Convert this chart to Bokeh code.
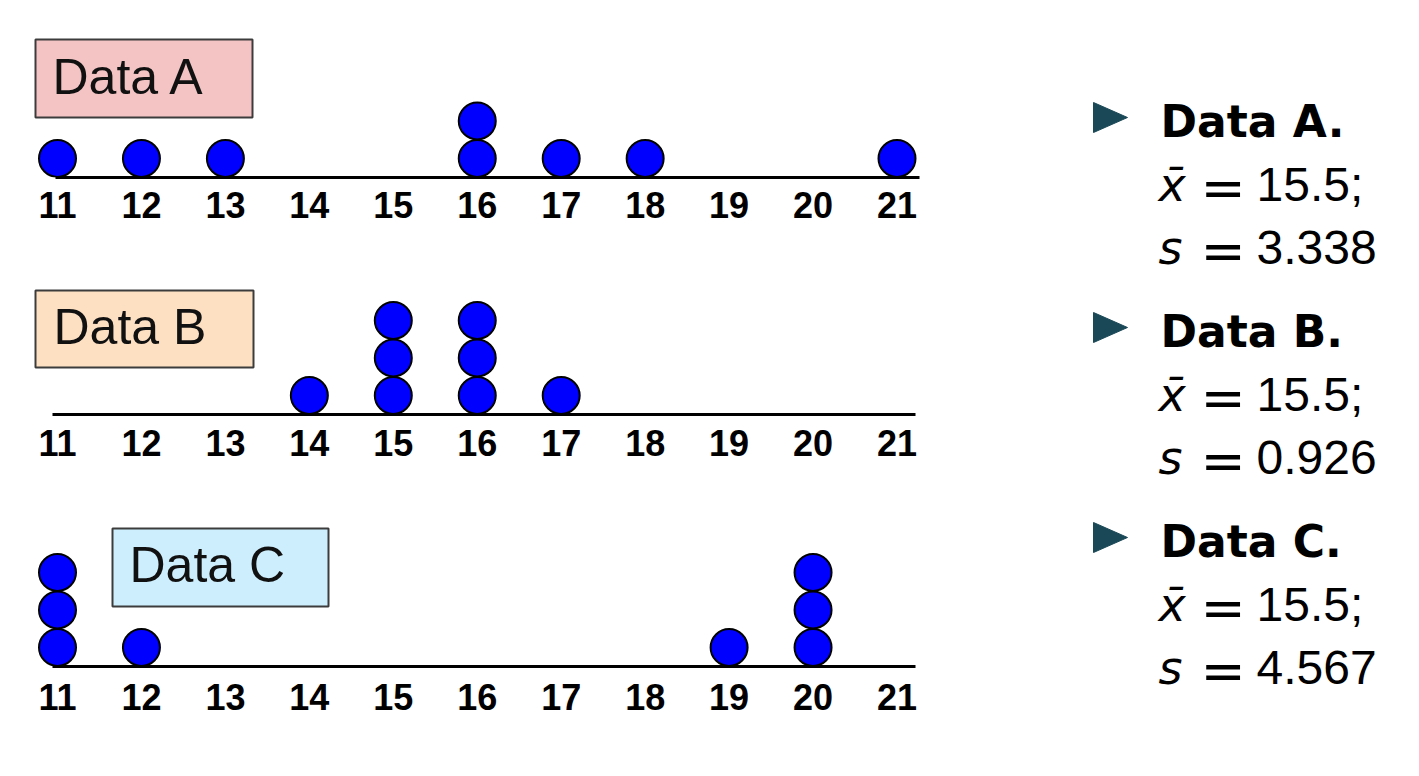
import numpy as np
from bokeh.plotting import figure
from bokeh.layouts import row, column
from bokeh.models import Range1d, FixedTicker, BoxAnnotation, Label
from bokeh.core.properties import value
from bokeh.embed import file_html
from bokeh.resources import INLINE

# ---------------- data ----------------
TICKS = [11, 12, 13, 14, 15, 16, 17, 18, 19, 20, 21]
DATA_A = [11, 12, 13, 16, 16, 17, 18, 21]
DATA_B = [14, 15, 15, 15, 16, 16, 16, 17]
DATA_C = [11, 11, 11, 12, 19, 20, 20, 20]
NAMES = ["Data A", "Data B", "Data C"]
BOX_COLORS = ["#f4c4c4", "#fde0c2", "#cdeefc"]

# ---------------- layout / style constants ----------------
LEFT_W = 1000
RIGHT_W = 419
TOTAL_H = 776
PX_PER_UNIT = 83.95
X11_PX = 57.0
X_START = 11 - X11_PX / PX_PER_UNIT
X_END = X_START + LEFT_W / PX_PER_UNIT
DOT_R = 19.0       # centre of first dot above line (px)
DOT_STEP = 37.5    # vertical step between stacked dots (px)
DOT_SIZE = 37
DOT_FILL = "#0000ff"
BASE_FIX = 0.37    # svg alphabetic baseline correction (fraction of font size)


def v(px):
    return 11 + (px - X11_PX) / PX_PER_UNIT


panels = [
    dict(data=DATA_A, top=0, height=250, line=177, bounds=(55, 919),
         box=(35, 252, 39, 117), text=(52, 95), standoff=14),
    dict(data=DATA_B, top=250, height=250, line=414, bounds=(52, 915),
         box=(35, 253, 290, 367), text=(53, 345), standoff=15),
    dict(data=DATA_C, top=500, height=276, line=666, bounds=(52, 915),
         box=(112, 328, 528, 606), text=(129, 583), standoff=17),
]

figs = []
for i, pn in enumerate(panels):
    frame_h = pn["line"] - pn["top"]
    p = figure(width=LEFT_W, height=pn["height"], output_backend="svg",
               toolbar_location=None, y_axis_location=None,
               x_range=Range1d(X_START, X_END), y_range=Range1d(0, frame_h),
               min_border_left=0, min_border_right=0, min_border_top=0,
               min_border_bottom=pn["height"] - frame_h)
    p.outline_line_color = None
    p.xgrid.visible = False
    p.ygrid.visible = False
    p.background_fill_color = "white"
    p.border_fill_color = "white"

    ax = p.xaxis[0]
    ax.ticker = FixedTicker(ticks=TICKS)
    ax.bounds = (v(pn["bounds"][0]), v(pn["bounds"][1]))
    ax.axis_line_width = 3
    ax.axis_line_color = "black"
    ax.major_tick_line_color = None
    ax.minor_tick_line_color = None
    ax.major_tick_out = 0
    ax.major_tick_in = 0
    ax.major_label_standoff = pn["standoff"]
    ax.major_label_text_font = "Liberation Sans"
    ax.major_label_text_font_size = "36px"
    ax.major_label_text_font_style = "bold"
    ax.major_label_text_color = "black"

    # stacked dots
    xs, ys, seen = [], [], {}
    for val in pn["data"]:
        k = seen.get(val, 0)
        seen[val] = k + 1
        xs.append(val)
        ys.append(DOT_R + k * DOT_STEP)
    p.scatter(xs, ys, size=DOT_SIZE, fill_color=DOT_FILL, line_color="black",
              line_width=2)

    bx0, bx1, by0, by1 = pn["box"]
    p.add_layout(BoxAnnotation(left=v(bx0), right=v(bx1),
                               bottom=pn["line"] - by1, top=pn["line"] - by0,
                               fill_color=BOX_COLORS[i], fill_alpha=1.0,
                               line_color="#3c3c3c", line_alpha=1.0,
                               line_width=2, level="underlay"))
    tx, tb = pn["text"]
    p.add_layout(Label(x=v(tx), y=pn["line"] - tb + BASE_FIX * 50,
                       text=NAMES[i],
                       text_font="Liberation Sans", text_font_size="50px",
                       text_baseline="alphabetic", text_align="left",
                       text_color="#111111"))
    figs.append(p)

# ---------------- right-hand text panel ----------------
q = figure(width=RIGHT_W, height=TOTAL_H, output_backend="svg",
           toolbar_location=None, x_axis_location=None, y_axis_location=None,
           x_range=Range1d(0, RIGHT_W), y_range=Range1d(TOTAL_H, 0),
           min_border_left=0, min_border_right=0, min_border_top=0,
           min_border_bottom=0)
q.outline_line_color = None
q.xgrid.visible = False
q.ygrid.visible = False

TRI_COLOR = "#1a4857"
ROW0 = 137
ROW_STEP = 210
tri_xs, tri_ys = [], []
titles, tx_, ty_ = [], [], []
vars_, vx, vy = [], [], []
eqx, eqy = [], []
nums, nx, ny = [], [], []
for i, (name, data) in enumerate(zip(NAMES, [DATA_A, DATA_B, DATA_C])):
    base = ROW0 + i * ROW_STEP
    yc = base - 20
    tri_xs.append([93, 93, 127])
    tri_ys.append([yc - 15, yc + 15, yc])
    titles.append(name + ".")
    tx_.append(160)
    ty_.append(base - BASE_FIX * 44)
    mean = float(np.mean(data))
    sd = float(np.std(data, ddof=1))
    for j, (var, txt) in enumerate([("x\u0304", f"{mean:.1f};"), ("s", f"{sd:.3f}")]):
        yy = base + 65 + j * 63
        vars_.append(var); vx.append(158); vy.append(yy - BASE_FIX * 46)
        eqx.append(200); eqy.append(yy + 4 - BASE_FIX * 52)
        nums.append(txt); nx.append(256); ny.append(yy - BASE_FIX * 48)

q.patches(tri_xs, tri_ys, fill_color=TRI_COLOR, line_color=TRI_COLOR)
q.text(tx_, ty_, text=titles, text_font=value("DejaVu Sans"),
       text_font_size=value("44px"), text_font_style="bold",
       text_baseline="alphabetic", text_color="black")
q.text(vx, vy, text=vars_, text_font=value("DejaVu Sans"),
       text_font_size=value("46px"), text_font_style="italic",
       text_baseline="alphabetic", text_color="black")
q.text(eqx, eqy, text=["="] * len(eqx), text_font=value("DejaVu Sans"),
       text_font_size=value("54px"),
       text_baseline="alphabetic", text_color="black")
q.text(nx, ny, text=nums, text_font=value("Liberation Sans"),
       text_font_size=value("48px"),
       text_baseline="alphabetic", text_color="black")

layout = row(column(*figs), q)
open("out.html", "w").write(file_html(layout, INLINE))
